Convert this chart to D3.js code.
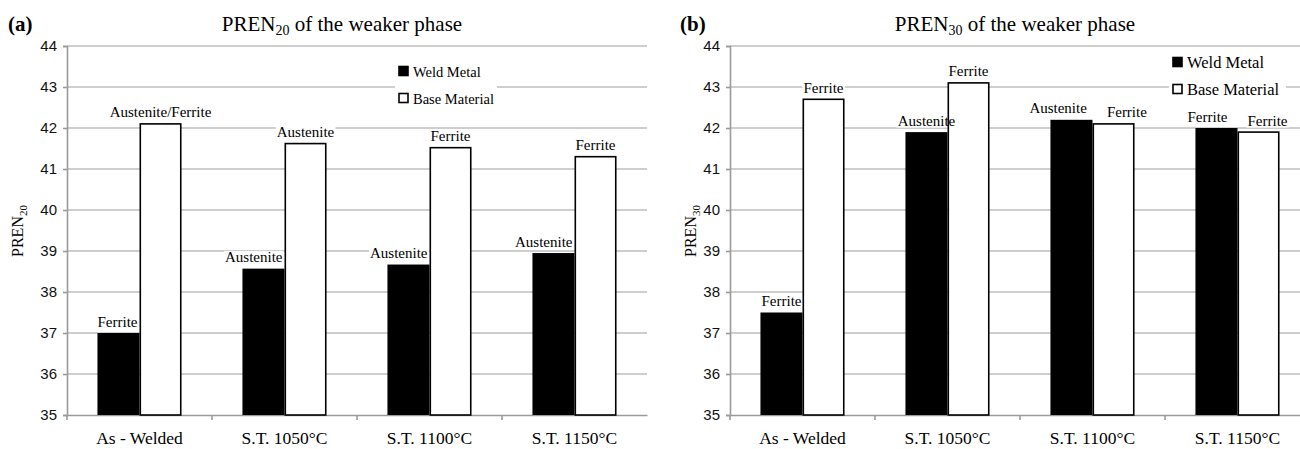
<!DOCTYPE html>
<html>
<head>
<meta charset="utf-8">
<script src="https://cdn.jsdelivr.net/npm/d3@7"></script>
<style>
  body { margin: 0; background: #fff; }
  svg { display: block; }
</style>
</head>
<body>
<div id="chart"></div>
<script>
// Categories and tick labels shared by both panels
const categories = ["As - Welded", "S.T. 1050°C", "S.T. 1100°C", "S.T. 1150°C"];
const yTicks = [35, 36, 37, 38, 39, 40, 41, 42, 43, 44];
const seriesNames = ["Weld Metal", "Base Material"];

// Panel (a): PREN20
const pren20Weld = [37.0, 38.57, 38.67, 38.95];
const pren20Base = [42.1, 41.62, 41.52, 41.3];
const pren20WeldLabels = ["Ferrite", "Austenite", "Austenite", "Austenite"];
const pren20BaseLabels = ["Austenite/Ferrite", "Austenite", "Ferrite", "Ferrite"];

// Panel (b): PREN30
const pren30Weld = [37.5, 41.9, 42.2, 42.0];
const pren30Base = [42.7, 43.1, 42.1, 41.9];
const pren30WeldLabels = ["Ferrite", "Austenite", "Austenite", "Ferrite"];
const pren30BaseLabels = ["Ferrite", "Ferrite", "Ferrite", "Ferrite"];

const W = 1300, H = 449;
const serif = "'Liberation Serif', 'Times New Roman', serif";
const sans = "'Liberation Sans', Arial, sans-serif";

const svg = d3.select("#chart").append("svg")
  .attr("width", W).attr("height", H);

function drawPanel(p) {
  const g = svg.append("g");

  // scales
  const x = d3.scaleBand().domain(categories).range([p.left, p.right]);
  const y = d3.scaleLinear().domain([35, 44]).range([415, 46]);

  // gridlines
  g.append("g").selectAll("line").data(yTicks.slice(1)).join("line")
    .attr("x1", p.left).attr("x2", p.right)
    .attr("y1", d => y(d)).attr("y2", d => y(d))
    .attr("stroke", "#bebebe").attr("stroke-width", 1.6);

  // y axis
  const yAxis = g.append("g").attr("transform", `translate(${p.left},0)`)
    .call(d3.axisLeft(y).tickValues(yTicks).tickSize(4).tickPadding(6).tickFormat(d3.format("d")));
  yAxis.select(".domain").attr("stroke", "#9a9a9a").attr("stroke-width", 1.6);
  yAxis.selectAll(".tick line").attr("stroke", "#9a9a9a").attr("stroke-width", 1.6);
  yAxis.selectAll("text").attr("font-family", sans).attr("font-size", 15).attr("fill", "#111");

  // x axis
  const xAxis = g.append("g").attr("transform", `translate(0,${y(35)})`)
    .call(d3.axisBottom(x).tickSize(0).tickPadding(16.5));
  xAxis.select(".domain").attr("stroke", "#9a9a9a").attr("stroke-width", 1.6);
  xAxis.selectAll("text").attr("font-family", serif).attr("font-size", 17.5).attr("fill", "#000");
  // category separator ticks
  g.append("g").selectAll("line").data(categories).join("line")
    .attr("x1", d => x(d)).attr("x2", d => x(d))
    .attr("y1", y(35)).attr("y2", y(35) + 5)
    .attr("stroke", "#9a9a9a").attr("stroke-width", 1.6);

  const bw = x.bandwidth() * 0.29;
  const cx = c => x(c) + x.bandwidth() / 2;

  // white backing for the bar labels sits under the bars, the text on top
  const lblBack = g.append("g");
  const barsG = g.append("g");
  const lbl = g.append("g");
  categories.forEach((c, i) => {
    const tw = lbl.append("text").attr("y", y(p.weld[i]) - 6.5)
      .attr("font-family", serif).attr("font-size", 15).text(p.weldLabels[i]);
    const tb = lbl.append("text").attr("y", y(p.base[i]) - 6.5)
      .attr("font-family", serif).attr("font-size", 15).text(p.baseLabels[i]);
    const ww = tw.node().getComputedTextLength();
    const wb = tb.node().getComputedTextLength();
    // weld label: centred, or right-aligned to the bar in panel (a)
    let xw = p.weldEnd ? cx(c) - 2 - ww : cx(c) - bw / 2 - ww / 2;
    let xb = cx(c) + bw / 2 - wb / 2;
    // push apart labels sitting at the same height
    if (Math.abs(y(p.weld[i]) - y(p.base[i])) < 14) {
      const gap = xb - (xw + ww);
      if (gap < 20) { xw -= (20 - gap) / 2; xb += (20 - gap) / 2; }
    }
    tw.attr("x", xw);
    tb.attr("x", xb);
  });
  lbl.selectAll("text").each(function () {
    const b = this.getBBox();
    lblBack.append("rect")
      .attr("x", b.x - 1).attr("y", b.y + 2).attr("width", b.width + 2).attr("height", b.height - 3)
      .attr("fill", "#fff");
  });

  // bars
  barsG.append("g").selectAll("rect").data(categories).join("rect")
    .attr("x", c => cx(c) - bw).attr("width", bw)
    .attr("y", (c, i) => y(p.weld[i])).attr("height", (c, i) => y(35) - y(p.weld[i]))
    .attr("fill", "#000");
  barsG.append("g").selectAll("rect").data(categories).join("rect")
    .attr("x", c => cx(c) + 0.8).attr("width", bw - 1.6)
    .attr("y", (c, i) => y(p.base[i])).attr("height", (c, i) => y(35) - y(p.base[i]))
    .attr("fill", "#fff").attr("stroke", "#000").attr("stroke-width", 1.6);

  // legend
  const leg = g.append("g").attr("transform", `translate(${p.legX},${p.legY})`);
  leg.append("rect").attr("x", -4).attr("y", -12).attr("width", p.legW).attr("height", p.legStep + 24)
    .attr("fill", "#fff");
  seriesNames.forEach((s, i) => {
    leg.append("rect").attr("x", 0).attr("y", i * p.legStep - 4.5).attr("width", 9).attr("height", 9)
      .attr("fill", i === 0 ? "#000" : "#fff").attr("stroke", "#000").attr("stroke-width", 1.6);
    leg.append("text").attr("x", 14).attr("y", i * p.legStep + 5.5)
      .attr("font-family", serif).attr("font-size", p.legFont).text(s);
  });

  // title
  const title = g.append("text").attr("x", p.titleX).attr("y", 31)
    .attr("text-anchor", "middle").attr("font-family", serif).attr("font-size", 21);
  title.append("tspan").text("PREN");
  title.append("tspan").attr("font-size", 14).attr("dy", 4).text(p.sub);
  title.append("tspan").attr("dy", -4).text(" of the weaker phase");

  // panel letter
  g.append("text").attr("x", p.letterX).attr("y", 31)
    .attr("font-family", serif).attr("font-size", 21).attr("font-weight", "bold").text(p.letter);

  // y-axis title
  const yt = g.append("text")
    .attr("transform", `translate(${p.yTitleX},231) rotate(-90)`)
    .attr("text-anchor", "middle").attr("font-family", serif).attr("font-size", 16);
  yt.append("tspan").text("PREN");
  yt.append("tspan").attr("font-size", 11).attr("dy", 4).text(p.sub);
}

drawPanel({
  left: 67, right: 647, weld: pren20Weld, base: pren20Base,
  weldLabels: pren20WeldLabels, baseLabels: pren20BaseLabels, weldEnd: true,
  legX: 399, legY: 71, legW: 102, legStep: 27, legFont: 14.5,
  titleX: 342, sub: "20", letter: "(a)", letterX: 8, yTitleX: 23
});
drawPanel({
  left: 730, right: 1310, weld: pren30Weld, base: pren30Base,
  weldLabels: pren30WeldLabels, baseLabels: pren30BaseLabels, weldEnd: false,
  legX: 1173, legY: 62, legW: 117, legStep: 27, legFont: 16.5,
  titleX: 1015, sub: "30", letter: "(b)", letterX: 680, yTitleX: 696
});
</script>
</body>
</html>
